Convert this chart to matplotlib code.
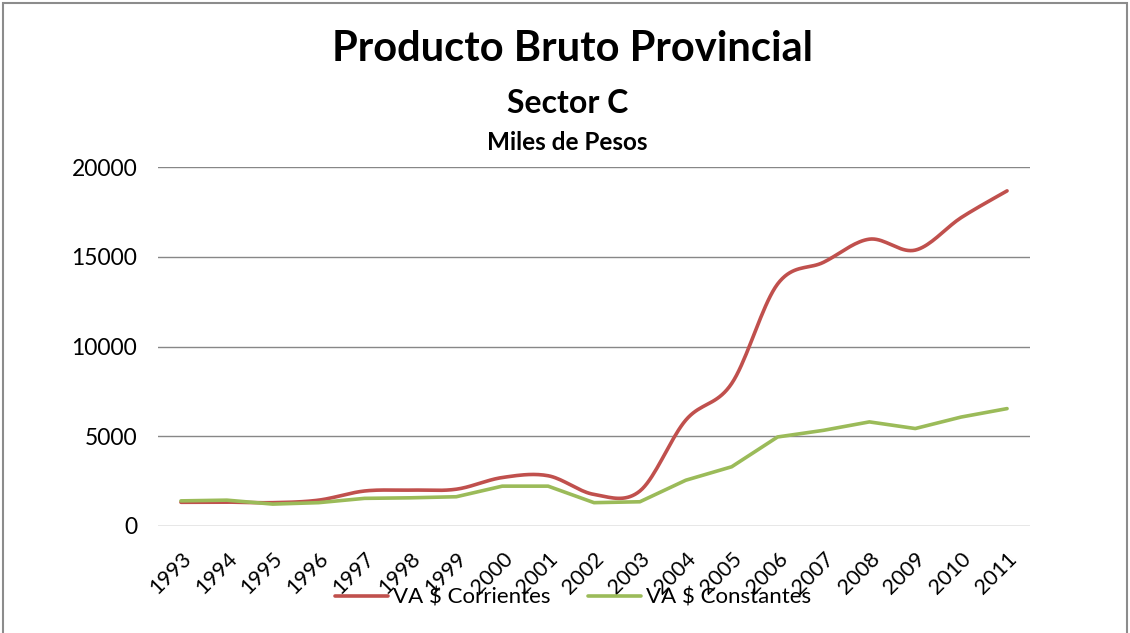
import numpy as np
import matplotlib
matplotlib.use('Agg')
import matplotlib.pyplot as plt
from matplotlib.patches import Rectangle

plt.rcParams['font.family'] = ['Lato', 'DejaVu Sans']

years = ['1993', '1994', '1995', '1996', '1997', '1998', '1999', '2000', '2001', '2002',
         '2003', '2004', '2005', '2006', '2007', '2008', '2009', '2010', '2011']
corrientes = [1320, 1330, 1300, 1440, 1950, 2000, 2050, 2700, 2800, 1760,
              1950, 5900, 7940, 13480, 14690, 15980, 15370, 17180, 18670]
constantes = [1400, 1440, 1220, 1300, 1540, 1570, 1630, 2220, 2220, 1300,
              1350, 2550, 3300, 4960, 5330, 5800, 5430, 6070, 6540]

red = '#C0504D'
green = '#9BBB59'


def smooth(x, y, n=20):
    # excel-like smoothed line: bezier through points, tangents from neighbours
    x = np.asarray(x, float)
    y = np.asarray(y, float)
    xs, ys = [], []
    for i in range(len(x) - 1):
        p0 = (x[max(i - 1, 0)], y[max(i - 1, 0)])
        p1 = (x[i], y[i])
        p2 = (x[i + 1], y[i + 1])
        p3 = (x[min(i + 2, len(x) - 1)], y[min(i + 2, len(x) - 1)])
        c1 = (p1[0] + (p2[0] - p0[0]) / 6, p1[1] + (p2[1] - p0[1]) / 6)
        c2 = (p2[0] - (p3[0] - p1[0]) / 6, p2[1] - (p3[1] - p1[1]) / 6)
        t = np.linspace(0, 1, n)
        for k in range(2):
            b = ((1 - t) ** 3 * p1[k] + 3 * (1 - t) ** 2 * t * c1[k]
                 + 3 * (1 - t) * t ** 2 * c2[k] + t ** 3 * p2[k])
            (xs if k == 0 else ys).extend(b)
    return xs, ys


W, H = 1130, 633
fig = plt.figure(figsize=(W / 100, H / 100), dpi=100)
ax = fig.add_axes([158 / W, 1 - 526 / H, (1030 - 158) / W, (526 - 167) / H])

xpos = np.arange(len(years))
sx, sy = smooth(xpos, corrientes)
ax.plot(sx, sy, color=red, lw=2.6, solid_capstyle='round', label='VA $ Corrientes', zorder=3)
ax.plot(xpos, constantes, color=green, lw=2.6, solid_capstyle='round', label='VA $ Constantes', zorder=3)

ax.set_ylim(0, 20000)
ax.set_yticks([0, 5000, 10000, 15000, 20000])
ax.set_xlim(-0.5, 18.5)
ax.set_xticks(xpos)
ax.set_xticklabels(years, rotation=45, ha='right', va='top', rotation_mode='anchor')
ax.tick_params(axis='both', length=0, colors='black')
ax.tick_params(axis='y', pad=15, labelsize=16.5)
ax.tick_params(axis='x', pad=16, labelsize=15.5)
ax.yaxis.grid(True, color='#878787', lw=1)
ax.set_axisbelow(True)
for s in ax.spines.values():
    s.set_visible(False)

fig.text(572 / W, 1 - 61 / H, 'Producto Bruto Provincial', ha='center', va='baseline',
         fontsize=30, fontweight='bold')
fig.text(568 / W, 1 - 113 / H, 'Sector C', ha='center', va='baseline',
         fontsize=23, fontweight='bold')
fig.text(567 / W, 1 - 150 / H, 'Miles de Pesos', ha='center', va='baseline',
         fontsize=17.5, fontweight='bold')

fig.legend(loc='center', bbox_to_anchor=(573 / W, 1 - 598 / H), ncol=2, frameon=False,
           fontsize=16, handlelength=2.4, columnspacing=1.7, handletextpad=0.2)

fig.patches.append(Rectangle((0.003, -0.01), 0.994, 1.006, transform=fig.transFigure,
                             fill=False, edgecolor='#8c8c8c', lw=1.5))

fig.savefig('out.png', dpi=100)
